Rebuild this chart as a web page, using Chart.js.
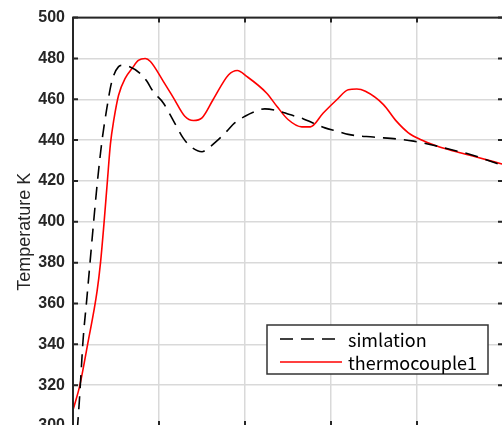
<!DOCTYPE html>
<html>
<head>
<meta charset="utf-8">
<script src="https://cdn.jsdelivr.net/npm/chart.js@4.4.0/dist/chart.umd.min.js"></script>
<style>
    html, body { margin: 0; padding: 0; width: 502px; height: 425px; overflow: hidden; background: #fff; }
    #wrap { width: 520px; height: 476px; }
</style>
</head>
<body>
<div id="wrap"><canvas id="tempChart" width="520" height="476"></canvas></div>
<script>
// Simulated temperature curve
const simTime = [0.5, 0.75, 0.95, 1.17, 1.6, 2.0, 2.4, 2.8, 3.35, 3.95, 4.5, 5.3, 5.7, 6.5, 7.8, 8.6, 9.3, 10.5, 11.7, 12.8, 13.6, 15.0, 15.7, 16.7, 17.9, 18.8, 20.0, 21.2, 22.3, 23.7, 25.2, 26.8, 27.9, 29.3, 30.7, 32.0, 34.9, 37.6, 39.6, 41.5, 43.8, 46.2, 47.7, 50];
const simTemp = [298, 313, 327, 342, 362, 381, 400, 418, 439, 456, 468.5, 476, 476.6, 476.1, 472.7, 468.8, 463.9, 458.2, 449.3, 441.1, 437.1, 434.3, 436, 439.5, 444.4, 448.4, 451.7, 454.1, 455.3, 454.5, 452.5, 450.4, 448.4, 446, 444.4, 442.8, 441.5, 440.6, 439.5, 437.9, 435.5, 433, 430.9, 427.5];

// Thermocouple reading
const tcTime = [0, 0.8, 1.7, 2.8, 3.2, 3.6, 4.0, 4.35, 4.75, 5.3, 6.1, 6.9, 7.6, 8.4, 9.0, 10.5, 11.7, 13.0, 14.0, 15.0, 16.3, 18.1, 19.1, 20.2, 22.5, 23.7, 25.0, 26.6, 27.6, 29.1, 30.7, 32.0, 33.0, 34.0, 36.1, 37.6, 39.0, 40.4, 42.3, 44.6, 46.9, 50];
const tcTemp = [307.8, 320, 340, 366, 380, 399, 420, 438, 450, 462, 470.5, 475.3, 479, 480, 478.5, 468.8, 460.6, 451.7, 449.6, 450.9, 459.9, 472, 474.1, 471.2, 463.1, 456.6, 450.1, 446.5, 446.5, 453.3, 459.9, 464.7, 465, 463.9, 457.4, 449.3, 443.6, 440.3, 437.1, 434.3, 431.7, 428.2];

const seriesNames = ['simlation', 'thermocouple1'];
const yAxisTitle = 'Temperature K';

const toPoints = (xs, ys) => xs.map((x, i) => ({ x: x, y: ys[i] }));

// box around the axes with inward tick marks, plus the y label
const axesBox = {
    id: 'axesBox',
    afterDatasetsDraw(chart) {
        const { ctx, chartArea: a, scales: { x, y } } = chart;
        ctx.save();
        ctx.strokeStyle = '#262626';
        ctx.lineWidth = 2;
        ctx.beginPath();
        y.ticks.forEach(t => {
            const py = y.getPixelForValue(t.value);
            ctx.moveTo(a.left, py); ctx.lineTo(a.left + 5, py);
            ctx.moveTo(a.right, py); ctx.lineTo(a.right - 5, py);
        });
        x.ticks.forEach(t => {
            const px = x.getPixelForValue(t.value);
            ctx.moveTo(px, a.top); ctx.lineTo(px, a.top + 5);
            ctx.moveTo(px, a.bottom); ctx.lineTo(px, a.bottom - 5);
        });
        ctx.stroke();
        ctx.strokeRect(a.left, a.top, a.right - a.left, a.bottom - a.top);

        // rotated axis title, sits a little below the axis centre
        ctx.translate(30, (a.top + a.bottom) / 2 + 10);
        ctx.rotate(-Math.PI / 2);
        ctx.fillStyle = '#262626';
        ctx.font = '18px "Liberation Sans", Arial, sans-serif';
        ctx.textAlign = 'center';
        ctx.textBaseline = 'alphabetic';
        ctx.fillText(yAxisTitle, 0, 0);
        ctx.restore();
    }
};

// legend drawn inside the plot, lower right
const boxLegend = {
    id: 'boxLegend',
    afterDraw(chart) {
        const { ctx, chartArea: a } = chart;
        const w = 221, h = 49;
        const bx = a.right - 15 - w, by = a.bottom - 52 - h;
        ctx.save();
        ctx.fillStyle = '#fff';
        ctx.fillRect(bx, by, w, h);
        ctx.strokeStyle = '#333';
        ctx.lineWidth = 1.5;
        ctx.strokeRect(bx, by, w, h);
        ctx.font = '18px "Noto Sans CJK JP", "Noto Sans", sans-serif';
        ctx.textBaseline = 'middle';
        chart.data.datasets.forEach((ds, i) => {
            const ly = by + 14 + i * 23;
            ctx.strokeStyle = ds.borderColor;
            ctx.lineWidth = ds.borderWidth;
            ctx.setLineDash(ds.borderDash || []);
            ctx.beginPath();
            ctx.moveTo(bx + 13, ly);
            ctx.lineTo(bx + 75, ly);
            ctx.stroke();
            ctx.setLineDash([]);
            ctx.fillStyle = '#000';
            ctx.fillText(ds.label, bx + 81, ly + 1);
        });
        ctx.restore();
    }
};

const chart = new Chart(document.getElementById('tempChart').getContext('2d'), {
    type: 'line',
    data: {
        datasets: [
            {
                label: seriesNames[0],
                data: toPoints(simTime, simTemp),
                borderColor: '#000000',
                borderWidth: 1.6,
                borderDash: [13, 8],
                pointRadius: 0,
                cubicInterpolationMode: 'monotone',
                fill: false
            },
            {
                label: seriesNames[1],
                data: toPoints(tcTime, tcTemp),
                borderColor: '#ff0000',
                borderWidth: 1.6,
                pointRadius: 0,
                cubicInterpolationMode: 'monotone',
                fill: false
            }
        ]
    },
    options: {
        responsive: false,
        animation: false,
        layout: { padding: { top: 16, right: 17, left: 0, bottom: 0 } },
        plugins: { legend: { display: false }, tooltip: { enabled: false } },
        scales: {
            x: {
                type: 'linear',
                min: 0, max: 50,
                afterFit: s => { s.height = 50; },
                border: { display: false },
                grid: { color: '#d9d9d9', lineWidth: 1.5, drawTicks: false },
                ticks: { stepSize: 10, padding: 8, color: '#262626', font: { family: 'Liberation Sans', size: 16, weight: 'bold' } }
            },
            y: {
                min: 300, max: 500,
                afterFit: s => { s.width = 73; },
                border: { display: false },
                grid: { color: '#d9d9d9', lineWidth: 1.5, drawTicks: false },
                ticks: { stepSize: 20, padding: 8, color: '#262626', font: { family: 'Liberation Sans', size: 16, weight: 'bold' } }
            }
        }
    },
    plugins: [axesBox, boxLegend]
});
</script>
</body>
</html>
